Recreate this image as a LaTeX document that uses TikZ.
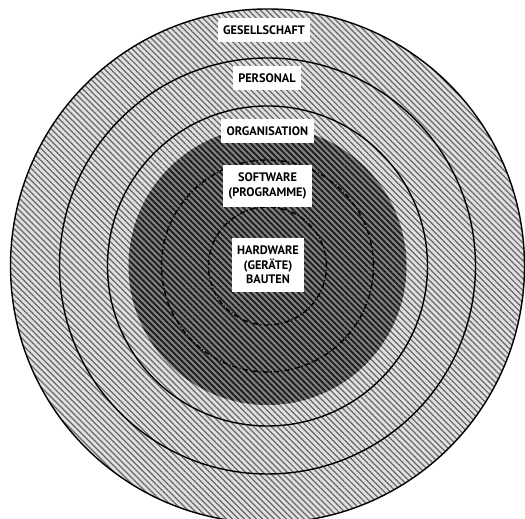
\documentclass[tikz,border=0pt]{standalone}
\usepackage{fontspec}
\setsansfont{PT Sans}
\usetikzlibrary{patterns.meta}

\def\ringOuter{257}
\def\ringDark{139}

\tikzset{
  lightzone/.style={fill=black!12,postaction={pattern={Lines[angle=-45,distance=2.4pt,line width=0.7pt]},pattern color=black!60}},
  darkzone/.style={fill=black!50,postaction={pattern={Lines[angle=-45,distance=2.4pt,line width=1pt]},pattern color=black!90}},
  ring/.style={line width=0.8pt},
  dotring/.style={line width=0.8pt,dash pattern=on 3pt off 1.2pt on 0.6pt off 1.2pt},
  tag/.style={fill=white,font=\sffamily\bfseries\fontsize{7}{8.2}\selectfont,align=center,inner xsep=3pt,inner ysep=4.5pt}
}

\begin{document}
\begin{tikzpicture}[x=0.02cm,y=0.02cm]
  \useasboundingbox (-267.5,-253) rectangle (257.5,266);

  % shaded zones
  \fill [lightzone] (0,0) circle (\ringOuter);
  \fill [darkzone] (0,0) circle (\ringDark);

  % ring lines
  \begin{scope}[ring]
    \draw (0,0) circle (\ringOuter);
    \foreach \r in {208,160}{%
        \draw (0,0) circle (\r);
      }
  \end{scope}
  \begin{scope}[dotring]
    \foreach \r in {106,59}{%
        \draw (0,0) circle (\r);
      }
  \end{scope}

  % labels
  \node [tag] (gesellschaft) at (-3.5,236) {GESELLSCHAFT};
  \node [tag] (personal) at (-0.5,188) {PERSONAL};
  \node [tag] (organisation) at (0,135) {ORGANISATION};
  \node [tag] (software) at (0,80) {SOFTWARE\\(PROGRAMME)};
  \node [tag] (hardware) at (0.5,1) {HARDWARE\\(GERÄTE)\\BAUTEN};
\end{tikzpicture}
\end{document}
